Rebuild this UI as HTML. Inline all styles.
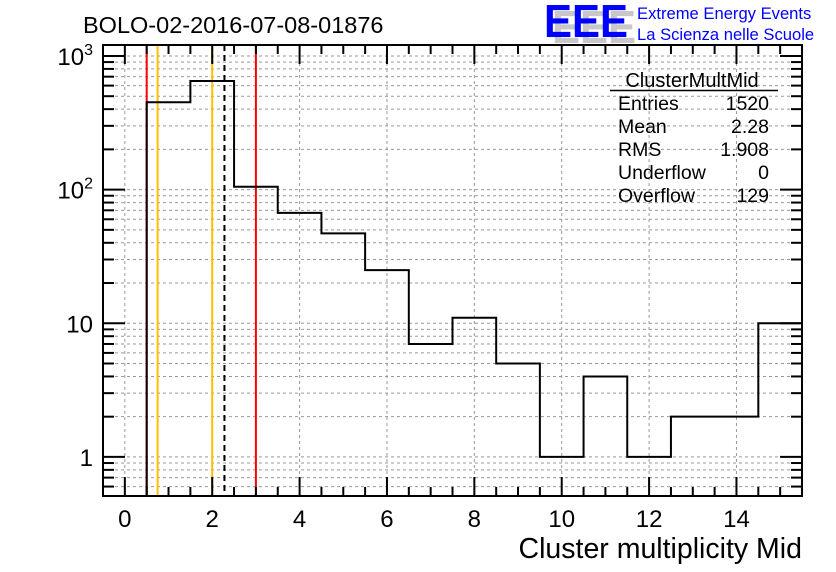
<!DOCTYPE html>
<html><head><meta charset="utf-8"><style>
body{margin:0;background:#fff;}
svg{display:block;font-family:"Liberation Sans",sans-serif;}
</style></head><body>
<svg id="chart" width="836" height="572" viewBox="0 0 836 572">
<rect x="0" y="0" width="836" height="572" fill="#fff"/>
<g id="grid"></g>
<g id="marks"></g>
<g id="axes"></g>
<text x="83" y="33" font-size="23.5">BOLO-02-2016-07-08-01876</text>
<g>
<text x="552" y="43" font-size="46" font-weight="bold" fill="#c8c8c8" textLength="84" lengthAdjust="spacingAndGlyphs">EEE</text>
<text x="544" y="37" font-size="46" font-weight="bold" fill="#0000ff" textLength="84" lengthAdjust="spacingAndGlyphs">EEE</text>
<text x="637" y="19" font-size="16.6" fill="#0000ff">Extreme Energy Events</text>
<text x="637" y="40" font-size="16.6" fill="#0000ff">La Scienza nelle Scuole</text>
</g>
<g font-size="19.5">
<text x="692" y="87" text-anchor="middle" font-size="20">ClusterMultMid</text>
<line x1="610" y1="90.5" x2="778" y2="90.5" stroke="#000" stroke-width="1.5"/>
<text x="618" y="110">Entries</text><text x="769" y="110" text-anchor="end">1520</text>
<text x="618" y="133">Mean</text><text x="769" y="133" text-anchor="end">2.28</text>
<text x="618" y="156">RMS</text><text x="769" y="156" text-anchor="end">1.908</text>
<text x="618" y="179">Underflow</text><text x="769" y="179" text-anchor="end">0</text>
<text x="618" y="202">Overflow</text><text x="769" y="202" text-anchor="end">129</text>
</g>
<text x="802" y="558" font-size="28.5" text-anchor="end">Cluster multiplicity Mid</text>
</svg>
<script>
const binEdgesLow = [0.5,1.5,2.5,3.5,4.5,5.5,6.5,7.5,8.5,9.5,10.5,11.5,12.5,13.5,14.5];
const binCounts = [450,650,105,67,47,25,7,11,5,1,4,1,2,2,10];
const xTickLabels = [0,2,4,6,8,10,12,14];
const yTickValues = [1,10,100,1000];
const redLines = [0.5,3.0];
const orangeLines = [0.75,2.0];
const meanLine = [2.28];

const L=103,R=802,T=45,B=496;
const xMin=-0.5,xMax=15.5,yMinLog=Math.log10(0.51),yMaxLog=3.082;
const X=v=>L+(v-xMin)/(xMax-xMin)*(R-L);
const Y=v=>B-(Math.log10(v)-yMinLog)/(yMaxLog-yMinLog)*(B-T);
const NS="http://www.w3.org/2000/svg";
function mk(tag,attrs,parent){const e=document.createElementNS(NS,tag);for(const k in attrs)e.setAttribute(k,attrs[k]);parent.appendChild(e);return e;}
const grid=document.getElementById('grid'),marks=document.getElementById('marks'),axes=document.getElementById('axes');

xTickLabels.forEach(v=>{
 const l=mk('line',{x1:X(v),x2:X(v),y1:T,y2:B,stroke:'#999','stroke-dasharray':'3,3','stroke-width':1},grid);
 
 
});
const yTicks=[];
for(let d=-1;d<=3;d++)for(let m=1;m<=9;m++){const v=m*Math.pow(10,d);const y=Y(v);if(y>=T&&y<=B)yTicks.push([v,m===1]);}
yTicks.forEach(([v,maj])=>{
 const y=Y(v);
 const g=mk('line',{x1:L,x2:R,y1:y,y2:y,stroke:'#999','stroke-dasharray':'3,3','stroke-width':1},grid);
 
 
 const len=maj?22:11;
 mk('line',{x1:L,x2:L+len,y1:y,y2:y,stroke:'#000','stroke-width':2},axes);
 mk('line',{x1:R,x2:R-len,y1:y,y2:y,stroke:'#000','stroke-width':2},axes);
});
for(let v=-0.5;v<=15.5;v+=0.5){
 const x=X(v);const maj=Math.abs(v/2-Math.round(v/2))<1e-6;const len=maj?19:9;
 if(x<=L+1||x>=R-1)continue;
 mk('line',{x1:x,x2:x,y1:B,y2:B-len,stroke:'#000','stroke-width':2},axes);
 mk('line',{x1:x,x2:x,y1:T,y2:T+len,stroke:'#000','stroke-width':2},axes);
}
xTickLabels.forEach(v=>{
 const t=mk('text',{x:X(v),y:527,'font-size':24,'text-anchor':'middle'},axes);
 t.textContent=v;
 
 
});
yTickValues.forEach(v=>{
 const y=Y(v);
 const t=mk('text',{x:93,y:y+9,'font-size':24,'text-anchor':'end'},axes);
 if(v>=100){const e=Math.round(Math.log10(v));t.textContent='10';const s=mk('tspan',{dy:-10,'font-size':16},t);s.textContent=e;}
 else t.textContent=v;
 
 
});
redLines.forEach(v=>{const l=mk('line',{x1:X(v),x2:X(v),y1:T,y2:B,stroke:'#ff0000','stroke-width':2},marks);
 
 });
orangeLines.forEach(v=>{const l=mk('line',{x1:X(v),x2:X(v),y1:T,y2:B,stroke:'#ffc000','stroke-width':2},marks);
 
 });
meanLine.forEach(v=>{const l=mk('line',{x1:X(v),x2:X(v),y1:T,y2:B,stroke:'#000','stroke-width':2,'stroke-dasharray':'6,4'},marks);
 
 });
let d='M'+X(binEdgesLow[0])+','+B;
binEdgesLow.forEach((lo,i)=>{d+=' L'+X(lo)+','+Y(binCounts[i])+' L'+X(lo+1)+','+Y(binCounts[i]);});
const h=mk('path',{d:d,fill:'none',stroke:'#000','stroke-width':2},marks);


const f=mk('rect',{x:L,y:T,width:R-L,height:B-T,fill:'none',stroke:'#000','stroke-width':2},axes);


</script>
</body></html>
